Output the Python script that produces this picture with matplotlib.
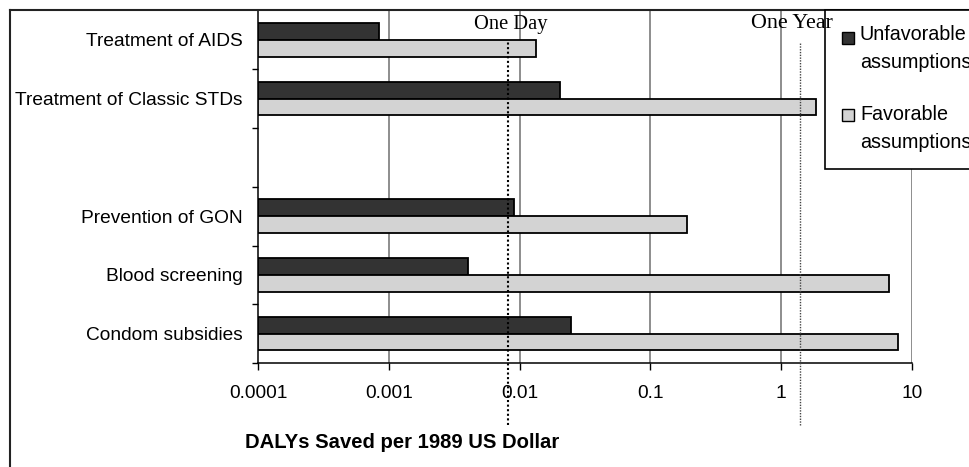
import numpy as np
import matplotlib
matplotlib.use("Agg")
import matplotlib.pyplot as plt
from matplotlib.patches import Rectangle
from matplotlib.lines import Line2D

plt.rcParams['font.family'] = ['Liberation Sans', 'DejaVu Sans']

# DALYs saved per 1989 US dollar, by intervention (blank row is a spacer)
categories = ["Treatment of AIDS", "Treatment of Classic STDs", "",
              "Prevention of GON", "Blood screening", "Condom subsidies"]
unfavorable = [0.00084, 0.0202, np.nan, 0.0091, 0.00404, 0.0246]
favorable = [0.0134, 1.84, np.nan, 0.19, 6.7, 7.83]

tick_values = [0.0001, 0.001, 0.01, 0.1, 1, 10]
tick_labels = ["0.0001", "0.001", "0.01", "0.1", "1", "10"]

one_day = 0.0082
one_year = 1.4

W, H = 970, 467
fig = plt.figure(figsize=(W / 100, H / 100), dpi=100)

def fx(px):
    return px / W

def fy(py):
    return 1 - py / H

ax = fig.add_axes([fx(258), fy(363), fx(912) - fx(258), fy(10.5) - fy(363)])
ax.set_xscale("log")
xmin, xmax = 1e-4, 10
ax.set_xlim(xmin, xmax)
ax.set_ylim(len(categories) - 0.5, -0.5)

y = np.arange(len(categories))
h = 0.285
unf = np.array(unfavorable)
fav = np.array(favorable)
ax.barh(y - h / 2, unf - xmin, left=xmin, height=h, color="#333333",
        edgecolor="black", linewidth=1.3, zorder=3)
ax.barh(y + h / 2, fav - xmin, left=xmin, height=h, color="#d3d3d3",
        edgecolor="black", linewidth=1.3, zorder=3)

# decade gridlines
for v in tick_values[1:]:
    ax.axvline(v, color="#6f6f6f", linewidth=1.1, zorder=1)

ax.set_xticks(tick_values)
ax.set_xticklabels(tick_labels)
ax.xaxis.set_minor_locator(matplotlib.ticker.NullLocator())
ax.tick_params(axis="x", direction="out", length=5, width=1, pad=11,
               labelsize=13.8)

ax.set_yticks(y)
ax.set_yticklabels(categories)
ax.set_yticks(np.arange(len(categories)) + 0.5, minor=True)
ax.tick_params(axis="y", which="major", length=0, pad=11, labelsize=13.8)
ax.tick_params(axis="y", which="minor", direction="out", length=4, width=1)

for s in ["top", "right"]:
    ax.spines[s].set_visible(False)
ax.spines["left"].set_linewidth(1.1)
ax.spines["bottom"].set_linewidth(1.1)

# reference lines for one day / one year
tr = ax.get_xaxis_transform()
y_top = (363 - 41.7) / (363 - 10.5)
y_bot = (363 - 425) / (363 - 10.5)
ax.plot([one_day, one_day], [y_bot, y_top], transform=tr, color="black",
        linestyle=(0, (1, 1.2)), linewidth=1.5, clip_on=False, zorder=4)
ax.plot([one_year, one_year], [y_bot, y_top], transform=tr, color="#444444",
        linestyle=(0, (1, 1)), linewidth=1.0, clip_on=False, zorder=4)

serif = ["Liberation Serif", "DejaVu Serif"]
fig.text(fx(510.5), fy(24), "One Day", family=serif,
         fontsize=14.8, ha="center", va="center", zorder=10)
fig.text(fx(791.5), fy(24), "One Year", family=serif,
         fontsize=15.8, ha="center", va="center", zorder=10)

fig.text(fx(245), fy(443), "DALYs Saved per 1989 US Dollar", fontsize=14.6,
         fontweight="bold", ha="left", va="center")

# chart frame
fig.add_artist(Line2D([fx(10.5), fx(10.5)], [fy(10), fy(470)], color="#222222",
                      linewidth=1.5))
fig.add_artist(Line2D([fx(10), fx(975)], [fy(10), fy(10)], color="#222222",
                      linewidth=1.5))

# legend box
fig.add_artist(Rectangle((fx(825), fy(169)), fx(975) - fx(825), fy(10) - fy(169),
                         facecolor="white", edgecolor="black", linewidth=1.2,
                         zorder=5))
sq = 12
fig.add_artist(Rectangle((fx(842), fy(38 + sq / 2)), fx(sq), sq / H,
                         facecolor="#333333", edgecolor="black", linewidth=1,
                         zorder=6))
fig.add_artist(Rectangle((fx(842), fy(115 + sq / 2)), fx(sq), sq / H,
                         facecolor="#d3d3d3", edgecolor="black", linewidth=1,
                         zorder=6))
for ty, txt in [(34, "Unfavorable"), (62, "assumptions"),
                (114, "Favorable"), (142, "assumptions")]:
    fig.text(fx(860), fy(ty), txt, fontsize=14.2, ha="left", va="center",
             zorder=7)

fig.savefig("out.png", dpi=100)
